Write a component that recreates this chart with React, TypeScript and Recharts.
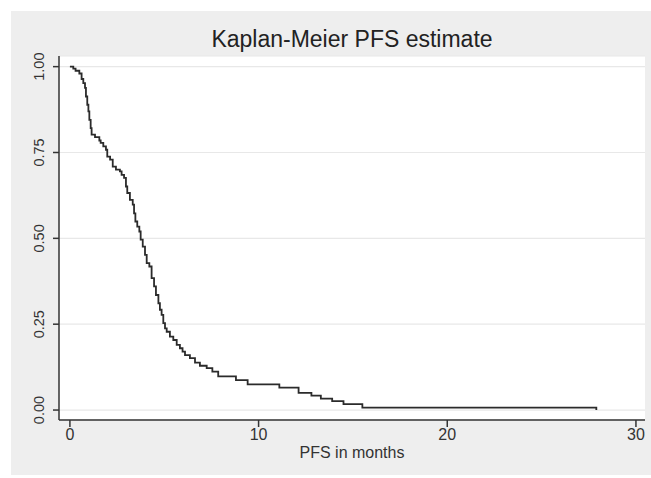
import React from 'react';
import { LineChart, Line, XAxis, YAxis, CartesianGrid } from 'recharts';

// Kaplan-Meier step points: time in months, survival estimate
const months = [
  0, 0.18, 0.3, 0.5, 0.62, 0.71, 0.8, 0.85, 0.92, 0.98, 1.03, 1.1, 1.15, 1.33, 1.56, 1.63,
  1.77, 1.91, 1.98, 2.13, 2.27, 2.44, 2.65, 2.74, 2.87, 2.97, 3.04, 3.18, 3.33, 3.4, 3.47,
  3.57, 3.68, 3.75, 3.86, 3.98, 4.07, 4.21, 4.33, 4.46, 4.56, 4.69, 4.77, 4.86, 4.95, 5.04,
  5.13, 5.3, 5.48, 5.66, 5.83, 5.97, 6.1, 6.36, 6.63, 6.89, 7.25, 7.55, 7.86, 8.8, 9.42,
  11.1, 12.12, 12.8, 13.3, 13.9, 14.5, 15.5, 27.9,
];
const survival = [
  1.0, 0.994, 0.988, 0.98, 0.964, 0.952, 0.938, 0.913, 0.889, 0.87, 0.845, 0.821, 0.802, 0.795,
  0.785, 0.778, 0.768, 0.758, 0.738, 0.729, 0.709, 0.7, 0.695, 0.685, 0.676, 0.651, 0.632, 0.612,
  0.598, 0.573, 0.549, 0.534, 0.52, 0.496, 0.476, 0.452, 0.428, 0.418, 0.384, 0.36, 0.335, 0.311,
  0.292, 0.277, 0.253, 0.238, 0.228, 0.214, 0.204, 0.19, 0.18, 0.17, 0.16, 0.151, 0.138, 0.129,
  0.122, 0.112, 0.098, 0.087, 0.075, 0.065, 0.05, 0.042, 0.033, 0.026, 0.017, 0.007, 0.0,
];
const xTicks = [0, 10, 20, 30];
const yTicks = [0, 0.25, 0.5, 0.75, 1];

const data = months.map((t, i) => ({ t, s: survival[i] }));

const font = '"Liberation Sans", Arial, sans-serif';
const ink = '#333333';

const YTick = (props: any) => {
  const { x, y, payload } = props;
  const tx = x - 7;
  return (
    <text
      x={tx}
      y={y}
      transform={`rotate(-90 ${tx} ${y})`}
      textAnchor="middle"
      fontSize={14.5}
      fontFamily={font}
      fill={ink}
    >
      {payload.value.toFixed(2)}
    </text>
  );
};

export default function App() {
  return (
    <div style={{ position: 'absolute', left: 0, top: 0, width: 651, height: 478, background: '#fff' }}>
      <div style={{ position: 'absolute', left: 11, top: 11, width: 640, height: 464, background: '#eeeeee' }} />
      <div
        style={{
          position: 'absolute',
          left: 59,
          width: 586,
          top: 26,
          textAlign: 'center',
          fontFamily: font,
          fontSize: 23,
          color: '#222',
        }}
      >
        Kaplan-Meier PFS estimate
      </div>
      <div style={{ position: 'absolute', left: 0, top: 0 }}>
        <LineChart width={651} height={478} data={data} margin={{ top: 56, right: 6, left: 0, bottom: 0 }}>
          <CartesianGrid vertical={false} fill="#ffffff" stroke="#e8e8e8" strokeWidth={1.2} />
          <XAxis
            dataKey="t"
            type="number"
            domain={[-0.578, 30.48]}
            ticks={xTicks}
            allowDataOverflow
            height={58}
            tickSize={7}
            tick={{ fontSize: 16, fontFamily: font, fill: ink }}
            axisLine={{ stroke: ink, strokeWidth: 1.5 }}
            tickLine={{ stroke: ink, strokeWidth: 1.5 }}
            label={{ value: 'PFS in months', position: 'insideBottom', offset: 20, fontSize: 16, fontFamily: font, fill: ink }}
          />
          <YAxis
            type="number"
            domain={[-0.029, 1.031]}
            ticks={yTicks}
            allowDataOverflow
            width={59}
            tickSize={6}
            tick={<YTick />}
            axisLine={{ stroke: ink, strokeWidth: 1.5 }}
            tickLine={{ stroke: ink, strokeWidth: 1.5 }}
          />
          <Line
            type="stepAfter"
            dataKey="s"
            stroke="#2b2b2b"
            strokeWidth={1.8}
            dot={false}
            isAnimationActive={false}
          />
        </LineChart>
      </div>
    </div>
  );
}
